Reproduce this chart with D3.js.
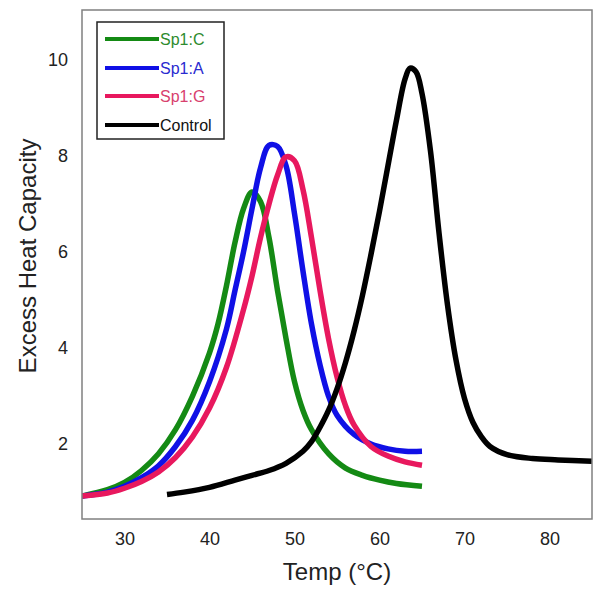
<!DOCTYPE html>
<html><head><meta charset="utf-8">
<script src="https://cdn.jsdelivr.net/npm/d3@7"></script>
<style>body{margin:0;background:#fff}svg{display:block}text{font-family:"Liberation Sans",Arial,sans-serif}</style>
</head><body><svg id="c" width="602" height="594"></svg>
<script>
const seriesNames = ["Sp1:C", "Sp1:A", "Sp1:G", "Control"];
const seriesColors = ["#148a14", "#1010e6", "#e8185e", "#000000"];
const textColors = ["#2e8b2e", "#2a2ad0", "#d8406e", "#111111"];
const xTicks = [30, 40, 50, 60, 70, 80];
const yTicks = [2, 4, 6, 8, 10];

const tempC = [25,28,30,32,34,36,38,40,41,42,43,44,45,46,47,48,49,50,51,52,54,56,58,60,62,65];
const valC  = [0.92,1.05,1.2,1.45,1.8,2.3,3.0,3.9,4.5,5.3,6.2,6.9,7.25,7.05,6.3,5.2,4.2,3.3,2.7,2.3,1.8,1.5,1.35,1.25,1.18,1.12];

const tempA = [25,28,30,32,34,36,38,40,42,43,44,45,46,47,48,49,50,51,52,53,54,55,57,59,61,63,65];
const valA  = [0.92,1.0,1.12,1.3,1.55,1.95,2.5,3.3,4.4,5.2,6.0,6.9,7.75,8.22,8.2,7.8,6.8,5.6,4.5,3.65,3.0,2.6,2.2,2.0,1.9,1.85,1.85];

const tempG = [25,28,30,32,34,36,38,40,42,44,45,46,47,48,49,50,51,52,53,54,55,56,57,59,61,63,65];
const valG  = [0.92,0.98,1.08,1.22,1.42,1.72,2.15,2.75,3.6,4.8,5.5,6.3,7.0,7.6,7.98,7.9,7.3,6.3,5.2,4.2,3.4,2.8,2.4,1.95,1.75,1.63,1.56];

const tempK = [35,37,40,43,45,47,49,51,52,53,54,55,56,57,58,59,60,61,62,63,63.6,64.3,65,66,67,68,69,70,71,72,73,75,78,81,85];
const valK  = [0.95,1.0,1.1,1.25,1.35,1.45,1.6,1.85,2.05,2.35,2.7,3.15,3.7,4.35,5.1,5.95,6.85,7.8,8.75,9.6,9.83,9.75,9.3,8.1,6.4,4.9,3.75,2.95,2.45,2.15,1.95,1.78,1.7,1.67,1.64];

const series = [[tempC,valC],[tempA,valA],[tempG,valG],[tempK,valK]];

const svg = d3.select("#c");
const L = 82, R = 592, T = 10, B = 519;
const x = d3.scaleLinear().domain([25, 85]).range([L, R]);
const y = d3.scaleLinear().domain([0.44, 11.04]).range([B, T]);

svg.append("clipPath").attr("id","pc").append("rect")
  .attr("x", L).attr("y", T).attr("width", R-L).attr("height", B-T);

const line = d3.line().x(d=>x(d[0])).y(d=>y(d[1])).curve(d3.curveCatmullRom.alpha(0.5));
series.forEach((s,i)=>{
  const pts = s[0].map((t,j)=>[t, s[1][j]]);
  svg.append("path").attr("d", line(pts)).attr("fill","none")
    .attr("stroke", seriesColors[i]).attr("stroke-width", 5.5)
    .attr("stroke-linejoin","round").attr("clip-path","url(#pc)");
});

// frame
svg.append("rect").attr("x",L).attr("y",T).attr("width",R-L).attr("height",B-T)
  .attr("fill","none").attr("stroke","#808080").attr("stroke-width",1.5);

// axes (labels only)
const xAxis = d3.axisBottom(x).tickValues(xTicks).tickSize(0).tickPadding(13);
const gx = svg.append("g").attr("transform",`translate(0,${B})`).call(xAxis);
gx.select(".domain").remove();
gx.selectAll("text").attr("font-size",18).attr("fill","#222").attr("font-family",'"Liberation Sans",Arial,sans-serif');

const yAxis = d3.axisLeft(y).tickValues(yTicks).tickSize(0).tickPadding(14);
const gy = svg.append("g").attr("transform",`translate(${L},0)`).call(yAxis);
gy.select(".domain").remove();
gy.selectAll("text").attr("font-size",18).attr("fill","#222").attr("font-family",'"Liberation Sans",Arial,sans-serif');

svg.append("text").attr("x",(L+R)/2).attr("y",580).attr("text-anchor","middle")
  .attr("font-size",24).attr("fill","#222").text("Temp (°C)");
svg.append("text").attr("transform","translate(36,256) rotate(-90)").attr("text-anchor","middle")
  .attr("font-size",24).attr("fill","#222").text("Excess Heat Capacity");

// legend
const lg = svg.append("g");
lg.append("rect").attr("x",97).attr("y",22).attr("width",127).attr("height",117)
  .attr("fill","#fff").attr("stroke","#222").attr("stroke-width",1.5);
const rowY = [39, 68, 96, 125];
seriesNames.forEach((n,i)=>{
  lg.append("line").attr("x1",105).attr("x2",159).attr("y1",rowY[i]).attr("y2",rowY[i])
    .attr("stroke",seriesColors[i]).attr("stroke-width",4);
  lg.append("text").attr("x",160).attr("y",rowY[i]).attr("dy","0.36em")
    .attr("font-size",16).attr("fill",textColors[i]).text(n);
});
</script></body></html>
